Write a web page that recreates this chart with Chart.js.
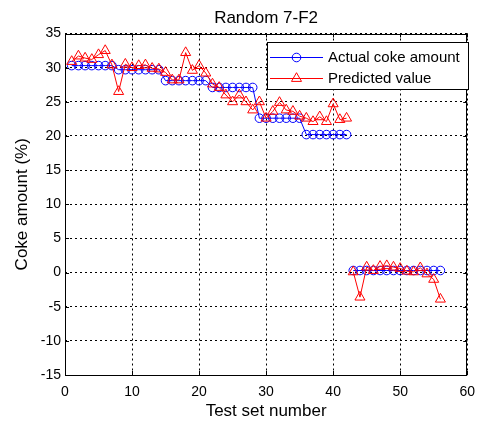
<!DOCTYPE html>
<html>
<head>
<meta charset="utf-8">
<script src="https://cdn.jsdelivr.net/npm/chart.js@4.4.0/dist/chart.umd.min.js"></script>
<style>
  html, body { margin: 0; padding: 0; background: #fff; }
</style>
</head>
<body>
<canvas id="myChart" width="484" height="423"></canvas>
<script>
// Coke amount per test sample (%)
const actual = [
  30.3, 30.3, 30.3, 30.3, 30.3, 30.3, 30.3,
  29.7, 29.7, 29.7, 29.7, 29.7, 29.7, 29.7,
  28.1, 28.1, 28.1, 28.1, 28.1, 28.1, 28.1,
  27.1, 27.1, 27.1, 27.1, 27.1, 27.1, 27.1,
  22.6, 22.6, 22.6, 22.6, 22.6, 22.6, 22.6,
  20.2, 20.2, 20.2, 20.2, 20.2, 20.2, 20.2,
  0.3, 0.3, 0.3, 0.3, 0.3, 0.3, 0.3, 0.3, 0.3, 0.3, 0.3, 0.3, 0.3, 0.3
];
const predicted = [
  30.9, 31.7, 31.4, 31.2, 31.9, 32.5, 30.4,
  26.5, 30.5, 30.0, 30.3, 30.4, 29.9, 29.8,
  29.3, 28.2, 28.2, 32.2, 29.6, 30.3, 29.2,
  27.6, 27.1, 26.0, 25.0, 26.0, 25.0, 23.8,
  25.0, 22.6, 23.6, 24.9, 23.8, 23.6, 22.9,
  22.6, 22.1, 22.8, 22.1, 24.7, 22.4, 22.6,
  0.1, -3.6, 0.8, 0.3, 0.9, 1.0, 0.8, 0.6, 0.2, 0.1, 0.7, -0.2, -1.0, -3.9
];
// the curves are plotted in two parts: samples 1-42 and 43-56
const breakAfter = 42;
const xTicks = [0, 10, 20, 30, 40, 50, 60];
const yTicks = [-15, -10, -5, 0, 5, 10, 15, 20, 25, 30, 35];
const seriesNames = ["Actual coke amount", "Predicted value"];

const FONT = "'Liberation Sans', Arial, sans-serif";

function toPoints(values) {
  const pts = [];
  values.forEach((v, i) => {
    pts.push({ x: i + 1, y: v });
    if (i + 1 === breakAfter) pts.push({ x: breakAfter + 0.5, y: null });
  });
  return pts;
}

// title, box with inward ticks, and a matlab style legend
const matlabAxes = {
  id: 'matlabAxes',
  afterDatasetsDraw(chart) {
    const ctx = chart.ctx;
    const a = chart.chartArea;
    const xs = chart.scales.x, ys = chart.scales.y;
    ctx.save();
    ctx.strokeStyle = '#000';
    ctx.lineWidth = 1;
    ctx.strokeRect(Math.round(a.left) + 0.5, Math.round(a.top) + 0.5,
      Math.round(a.right - a.left) - 1, Math.round(a.bottom - a.top) - 1);
    ctx.beginPath();
    xTicks.forEach(t => {
      const px = Math.round(xs.getPixelForValue(t)) + 0.5;
      ctx.moveTo(px, a.top); ctx.lineTo(px, a.top + 4);
      ctx.moveTo(px, a.bottom); ctx.lineTo(px, a.bottom - 4);
    });
    yTicks.forEach(t => {
      const py = Math.round(ys.getPixelForValue(t)) + 0.5;
      ctx.moveTo(a.left, py); ctx.lineTo(a.left + 4, py);
      ctx.moveTo(a.right, py); ctx.lineTo(a.right - 4, py);
    });
    ctx.stroke();
    ctx.restore();
  },
  afterDraw(chart) {
    const ctx = chart.ctx;
    const a = chart.chartArea;
    ctx.save();
    ctx.fillStyle = '#000';
    ctx.font = '17px ' + FONT;
    ctx.textAlign = 'center';
    ctx.textBaseline = 'middle';
    ctx.fillText('Random 7-F2', (a.left + a.right) / 2, 18);

    // legend
    const lx = 267.5, ly = 42.5, lw = 201, lh = 47;
    ctx.fillStyle = '#fff';
    ctx.fillRect(lx, ly, lw, lh);
    ctx.strokeStyle = '#000';
    ctx.lineWidth = 1;
    ctx.strokeRect(lx, ly, lw, lh);
    const rows = [57, 78];
    chart.data.datasets.forEach((ds, i) => {
      const y = rows[i] + 0.5;
      ctx.strokeStyle = ds.borderColor;
      ctx.lineWidth = 1;
      ctx.beginPath();
      ctx.moveTo(270, y); ctx.lineTo(323, y);
      ctx.stroke();
      ctx.fillStyle = 'rgba(0,0,0,0)';
      Chart.helpers.drawPoint(ctx, {
        pointStyle: ds.pointStyle, radius: ds.pointRadius,
        borderWidth: 1, rotation: 0
      }, 296.5, y);
      ctx.fillStyle = '#000';
      ctx.font = '15px ' + FONT;
      ctx.textAlign = 'left';
      ctx.textBaseline = 'middle';
      ctx.fillText(seriesNames[i], 328, y);
    });
    ctx.restore();
  }
};

new Chart('myChart', {
  type: 'line',
  data: {
    datasets: [{
      label: seriesNames[0],
      data: toPoints(actual),
      borderColor: '#0000ff',
      backgroundColor: 'rgba(0,0,0,0)',
      borderWidth: 1,
      pointStyle: 'circle',
      pointRadius: 4.3,
      pointBorderWidth: 1,
      pointBackgroundColor: 'rgba(0,0,0,0)',
      tension: 0,
      spanGaps: false,
      order: 1
    }, {
      label: seriesNames[1],
      data: toPoints(predicted),
      borderColor: '#ff0000',
      backgroundColor: 'rgba(0,0,0,0)',
      borderWidth: 1,
      pointStyle: 'triangle',
      pointRadius: 5.8,
      pointBorderWidth: 1,
      pointBackgroundColor: 'rgba(0,0,0,0)',
      tension: 0,
      spanGaps: false,
      order: 0
    }]
  },
  options: {
    responsive: false,
    animation: false,
    devicePixelRatio: 1,
    layout: { padding: { top: 33.5, right: 10, left: 0, bottom: 0 } },
    plugins: {
      legend: { display: false },
      title: { display: false },
      tooltip: { enabled: false }
    },
    scales: {
      x: {
        type: 'linear',
        min: 0, max: 60,
        afterFit: s => { s.height = 48; },
        afterBuildTicks: s => { s.ticks = xTicks.map(v => ({ value: v })); },
        grid: { color: '#000', lineWidth: 1, drawTicks: false },
        border: { display: false, dash: [2, 3] },
        ticks: { color: '#000', font: { family: FONT, size: 14 }, padding: 9, maxRotation: 0, autoSkip: false },
        title: { display: true, text: 'Test set number', color: '#000', font: { family: FONT, size: 17 }, padding: { top: 0, bottom: 1 } }
      },
      y: {
        min: -15, max: 35,
        afterFit: s => { s.width = 65; },
        afterBuildTicks: s => { s.ticks = yTicks.map(v => ({ value: v })); },
        grid: { color: '#000', lineWidth: 1, drawTicks: false },
        border: { display: false, dash: [2, 3] },
        ticks: { color: '#000', font: { family: FONT, size: 14 }, padding: 4, autoSkip: false },
        title: { display: true, text: 'Coke amount (%)', color: '#000', font: { family: FONT, size: 17 }, padding: { top: 12, bottom: 0 } }
      }
    }
  },
  plugins: [matlabAxes]
});
</script>
</body>
</html>
